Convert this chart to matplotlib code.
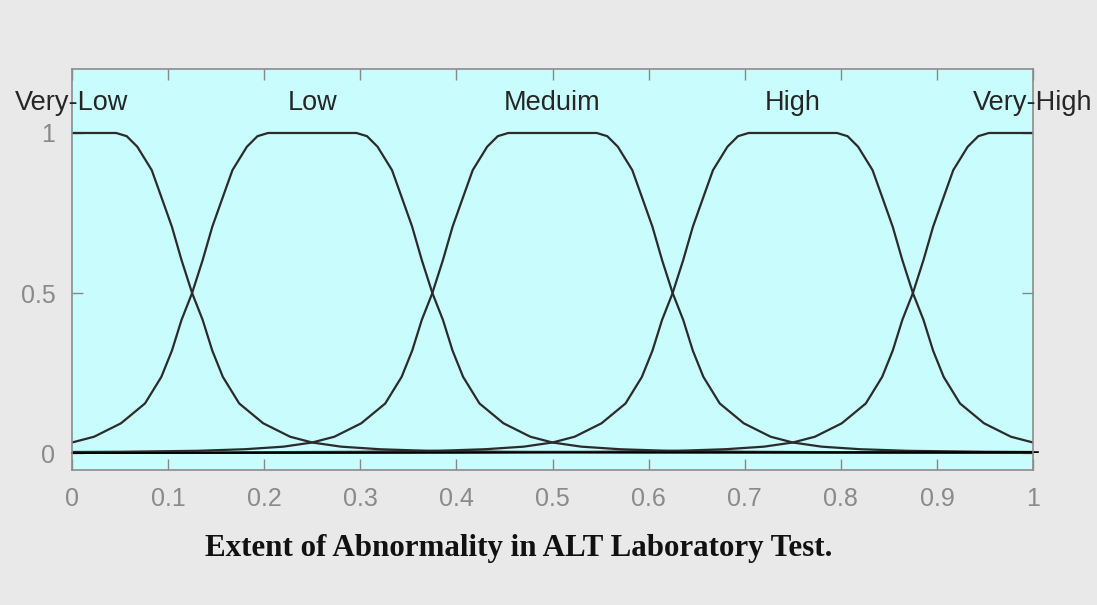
import matplotlib.pyplot as plt

# membership functions (centres + one shared profile)
mf_names = ['Very-Low', 'Low', 'Meduim', 'High', 'Very-High']
mf_centers = [0.0, 0.25, 0.5, 0.75, 1.0]

# distance from centre -> membership degree
dist = [0, 0.046, 0.057, 0.068, 0.083, 0.093, 0.104, 0.114, 0.125, 0.136,
        0.146, 0.157, 0.174, 0.199, 0.227, 0.25, 0.28, 0.32, 0.37, 0.45,
        0.6, 0.8, 1.0]
memb = [1, 1, 0.99, 0.957, 0.884, 0.80, 0.707, 0.603, 0.5, 0.416,
        0.32, 0.238, 0.155, 0.093, 0.051, 0.033, 0.02, 0.012, 0.007, 0.004,
        0.002, 0.001, 0.0005]

xticks = [0, 0.1, 0.2, 0.3, 0.4, 0.5, 0.6, 0.7, 0.8, 0.9, 1]
xticklabels = ['0', '0.1', '0.2', '0.3', '0.4', '0.5', '0.6', '0.7', '0.8', '0.9', '1']
yticks = [0, 0.5, 1]

fig = plt.figure(figsize=(10.97, 6.05), dpi=100)
fig.patch.set_facecolor('#e9e9e9')
ax = fig.add_axes([0.0656, 0.2231, 0.8761, 0.6629])
ax.set_facecolor('#c9fcfc')

for c in mf_centers:
    xs = [c - d for d in dist[::-1]] + [c + d for d in dist[1:]]
    ys = memb[::-1] + memb[1:]
    ax.plot(xs, ys, color='#2b2b2b', lw=1.6)

# baseline
ax.plot([0, 1.005], [0, 0.003], color='black', lw=1.3, clip_on=False)

for name, c in zip(mf_names, mf_centers):
    ax.text(c, 1.095, name, ha='center', va='center', fontsize=19.5,
            color='#262626', family='Liberation Sans', clip_on=False)

ax.set_xlim(0, 1)
ax.set_ylim(-0.053, 1.2)
ax.set_xticks(xticks)
ax.set_xticklabels(xticklabels)
ax.set_yticks(yticks)
ax.set_yticklabels(['0', '0.5', '1'])
ax.tick_params(direction='in', length=8, width=1, color='#888888',
               labelcolor='#8a8a8a', labelsize=18, top=True, right=True, pad=12)
for lab in ax.get_xticklabels() + ax.get_yticklabels():
    lab.set_family('Liberation Sans')
for s in ax.spines.values():
    s.set_color('#8c8c8c')
    s.set_linewidth(1.2)

fig.text(0.473, 0.093, 'Extent of Abnormality in ALT Laboratory Test.',
         ha='center', va='center', fontsize=22.3, fontweight='bold',
         family='Liberation Serif', color='#111111')

fig.savefig('out.png', dpi=100, facecolor=fig.get_facecolor())
